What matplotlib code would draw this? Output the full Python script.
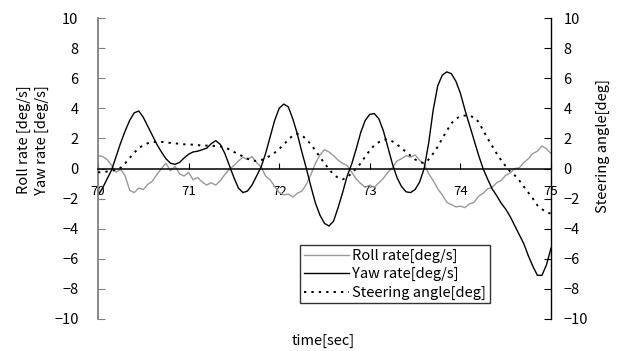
import numpy as np
import matplotlib
matplotlib.use("Agg")
import matplotlib.pyplot as plt

plt.rcParams['font.family'] = ['Noto Sans CJK JP', 'DejaVu Sans']

# time axis: samples every 0.05 s between 70 and 75 s
time = np.round(np.arange(70.0, 75.0001, 0.05), 2)

# roll rate [deg/s]
roll_rate = [
    0.85, 0.8, 0.6, 0.2, -0.25, -0.05, -0.5, -1.45, -1.6, -1.3,
    -1.4, -1.05, -0.85, -0.4, 0.0, 0.35, -0.15, 0.15, -0.35, -0.5,
    -0.25, -0.75, -0.6, -0.9, -1.1, -0.95, -1.1, -0.8, -0.4, -0.05,
    0.2, 0.5, 0.75, 0.6, 0.8, 0.4, 0.1, -0.5, -0.75, -1.2,
    -1.6, -1.75, -1.7, -1.9, -1.65, -1.5, -1.05, -0.4, 0.35, 0.9,
    1.25, 1.1, 0.85, 0.55, 0.35, 0.2, -0.25, -0.7, -1.0, -1.25,
    -1.1, -1.25, -0.95, -0.65, -0.25, 0.05, 0.5, 0.65, 0.85, 0.75,
    0.9, 0.55, 0.3, -0.35, -0.8, -1.35, -1.75, -2.25, -2.4, -2.55,
    -2.5, -2.6, -2.35, -2.25, -1.85, -1.65, -1.35, -1.25, -0.95, -0.8,
    -0.45, -0.3, 0.0, 0.05, 0.4, 0.65, 1.0, 1.15, 1.5, 1.3,
    1.0,
]

# yaw rate [deg/s], black solid curve
yaw_rate = [
    -1.8, -1.3, -0.7, -0.1, 0.8, 1.7, 2.5, 3.2, 3.7, 3.82,
    3.4, 2.8, 2.2, 1.6, 1.1, 0.65, 0.35, 0.28, 0.4, 0.7,
    0.95, 1.1, 1.15, 1.25, 1.35, 1.65, 1.85, 1.6, 1.0, 0.2,
    -0.6, -1.3, -1.6, -1.5, -1.1, -0.5, 0.1, 1.0, 2.1, 3.2,
    4.0, 4.28, 4.1, 3.3, 2.3, 1.1, 0.0, -1.2, -2.3, -3.1,
    -3.65, -3.82, -3.5, -2.6, -1.6, -0.5, 0.3, 1.3, 2.4, 3.2,
    3.6, 3.65, 3.3, 2.5, 1.4, 0.3, -0.6, -1.2, -1.55, -1.6,
    -1.4, -0.9, 0.0, 1.7, 3.9, 5.5, 6.2, 6.42, 6.3, 5.8,
    5.0, 3.9, 2.9, 1.9, 0.9, 0.0, -0.7, -1.35, -1.8, -2.3,
    -2.7, -3.2, -3.8, -4.4, -5.0, -5.8, -6.5, -7.1, -7.1, -6.4,
    -5.3,
]

# steering angle [deg], dotted curve on the right axis
steering = [
    -0.25, -0.25, -0.2, -0.15, -0.1, 0.05, 0.35, 0.7, 1.05, 1.35,
    1.55, 1.68, 1.75, 1.78, 1.77, 1.73, 1.7, 1.67, 1.64, 1.61,
    1.6, 1.58, 1.55, 1.53, 1.52, 1.5, 1.5, 1.47, 1.4, 1.27,
    1.1, 0.95, 0.8, 0.65, 0.52, 0.5, 0.55, 0.68, 0.85, 1.05,
    1.3, 1.6, 1.9, 2.2, 2.3, 2.2, 1.95, 1.6, 1.2, 0.75,
    0.35, -0.05, -0.4, -0.62, -0.72, -0.6, -0.3, 0.0, 0.35, 0.8,
    1.2, 1.55, 1.75, 1.9, 1.95, 1.8, 1.6, 1.35, 1.1, 0.85,
    0.6, 0.45, 0.35, 0.6, 1.0, 1.45, 2.0, 2.5, 3.0, 3.3,
    3.48, 3.52, 3.5, 3.4, 3.1, 2.55, 2.0, 1.5, 1.0, 0.55,
    0.15, -0.2, -0.45, -0.8, -1.2, -1.6, -2.0, -2.45, -2.7, -2.9,
    -3.0,
]

y_ticks = [-10, -8, -6, -4, -2, 0, 2, 4, 6, 8, 10]
x_ticks = [70, 71, 72, 73, 74, 75]

fig = plt.figure(figsize=(6.21, 3.51), dpi=100)
ax = fig.add_axes([98 / 621, 1 - 319 / 351, 453 / 621, 301 / 351])
ax2 = ax.twinx()

h1, = ax.plot(time, roll_rate, color='#999999', lw=1.0, label='Roll rate[deg/s]')
h2, = ax.plot(time, yaw_rate, color='black', lw=1.0, label='Yaw rate[deg/s]')
h3, = ax2.plot(time, steering, color='black', lw=1.4,
               linestyle=(0, (1.2, 2.6)), label='Steering angle[deg]')

for a in (ax, ax2):
    a.set_xlim(70, 75)
    a.set_ylim(-10, 10)
    a.set_yticks(y_ticks)
    a.spines['top'].set_visible(False)

# x axis drawn along zero, ticks pointing up
ax.spines['bottom'].set_position(('data', 0))
ax.spines['bottom'].set_linewidth(1.1)
ax2.spines['bottom'].set_visible(False)
ax.set_xticks(x_ticks)
ax.tick_params(axis='x', direction='in', length=4, pad=12, labelsize=9.5)

ax.spines['left'].set_color('#808080')
ax.spines['left'].set_linewidth(1.3)
ax.spines['right'].set_visible(False)
ax.tick_params(axis='y', direction='in', length=5, pad=14, labelsize=10.5,
               color='#808080')

ax2.spines['left'].set_visible(False)
ax2.spines['right'].set_linewidth(1.0)
ax2.tick_params(axis='y', direction='in', length=5, pad=9, labelsize=10.5)

fig.text(33 / 621, 1 - 140 / 351, 'Roll rate [deg/s]\nYaw rate [deg/s]',
         rotation=90, ha='center', va='center', fontsize=10.5,
         multialignment='center', linespacing=1.3)
fig.text(603 / 621, 1 - 146 / 351, 'Steering angle[deg]', rotation=90,
         ha='center', va='center', fontsize=10.5)
fig.text(323 / 621, 1 - 341 / 351, 'time[sec]', ha='center', va='center',
         fontsize=10.5)

leg = fig.legend(handles=[h1, h2, h3], loc='upper left',
                 bbox_to_anchor=(300 / 621, 1 - 245 / 351),
                 fontsize=10.5, frameon=True, fancybox=False,
                 borderaxespad=0, borderpad=0.25, handlelength=3.1,
                 handletextpad=0.25, labelspacing=0.3)
leg.get_frame().set_edgecolor('black')
leg.get_frame().set_linewidth(1.0)

fig.savefig('out.png', dpi=100)
